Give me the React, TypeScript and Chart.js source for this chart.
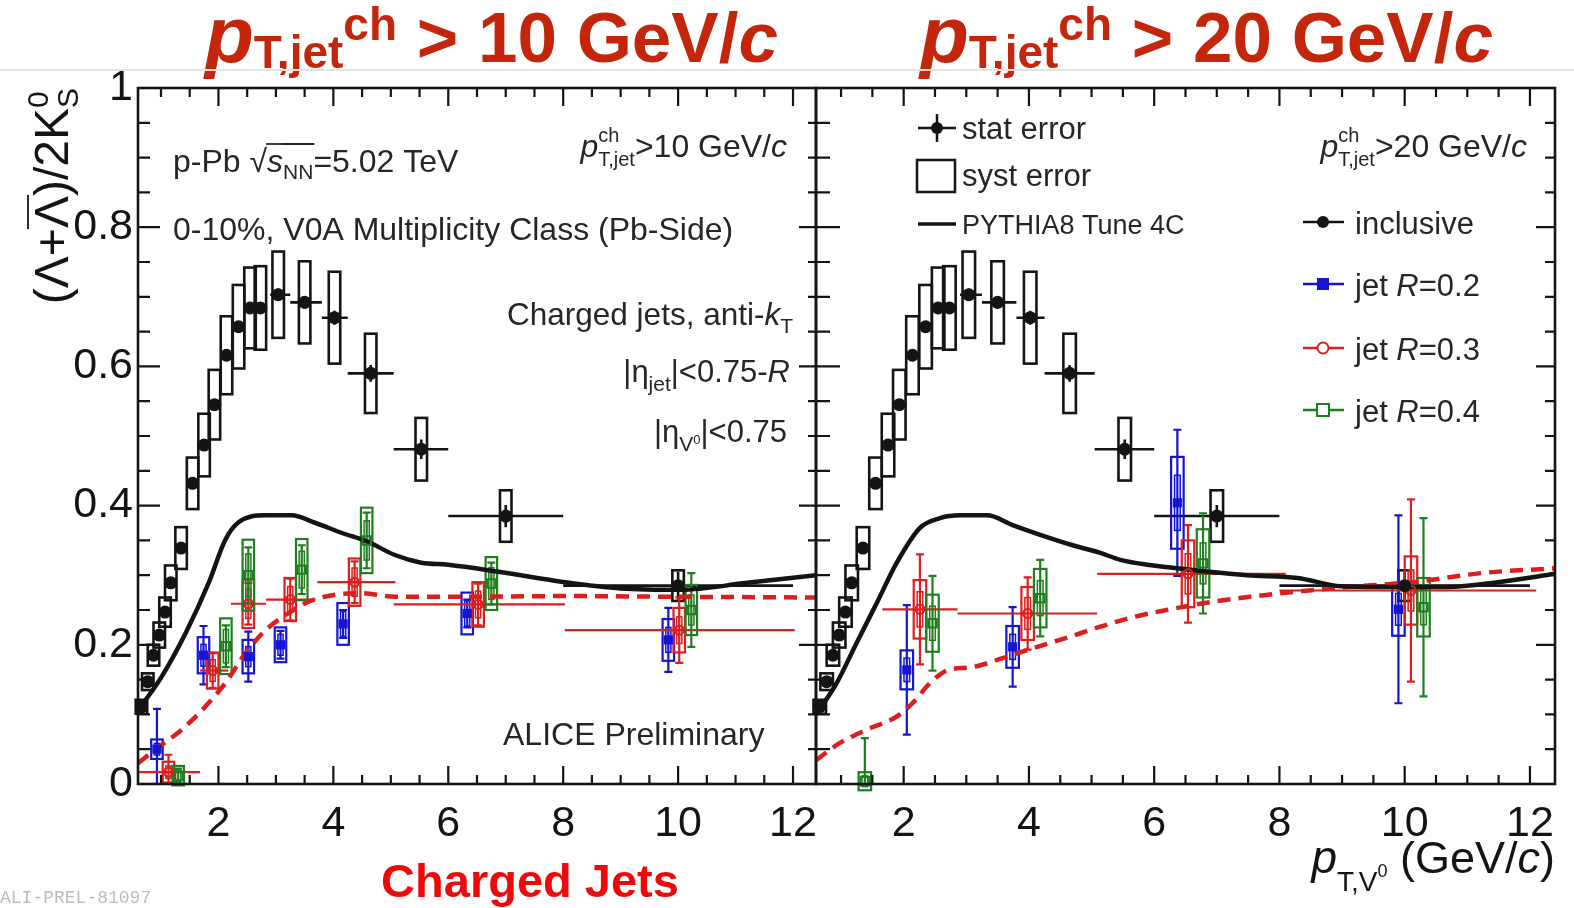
import React, { useEffect, useRef } from "react";
import { Chart, registerables } from "chart.js";

Chart.register(...registerables);

const W = 1574;
const H = 908;
const FONT = '"Liberation Sans", Arial, Helvetica, sans-serif';
const INK = "#141414";
const TEXT = "#262626";
const BLUE = "#1414d2";
const RED = "#dc1e1e";
const GREEN = "#1f7f1f";
const TITLE_RED = "#c4260c";

// axis ranges and ticks
const X_MIN = 0.6;
const X_MAX = 12.4;
const xTicks = [2, 4, 6, 8, 10, 12];
const yTicks = [0, 0.2, 0.4, 0.6, 0.8, 1];
const yTickLabels = ["0", "0.2", "0.4", "0.6", "0.8", "1"];

// inclusive Lambda/K0s ratio (both panels)
const incX = [0.66, 0.77, 0.87, 0.97, 1.07, 1.17, 1.35, 1.55, 1.75, 1.93, 2.14, 2.35, 2.55, 2.73, 3.04, 3.5, 4.02, 4.65, 5.53, 7.0, 10.0];
const incY = [0.111, 0.147, 0.185, 0.214, 0.247, 0.289, 0.339, 0.432, 0.487, 0.545, 0.616, 0.657, 0.684, 0.684, 0.703, 0.692, 0.67, 0.59, 0.481, 0.385, 0.285];
const incLo = [0.6, 0.72, 0.82, 0.92, 1.02, 1.12, 1.25, 1.45, 1.65, 1.85, 2.05, 2.25, 2.45, 2.65, 2.9, 3.25, 3.8, 4.25, 5.05, 6.0, 8.0];
const incHi = [0.72, 0.82, 0.92, 1.02, 1.12, 1.22, 1.45, 1.65, 1.85, 2.05, 2.25, 2.45, 2.65, 2.85, 3.25, 3.8, 4.25, 5.05, 6.0, 8.0, 12.0];
const incStat = [0.004, 0.004, 0.004, 0.005, 0.005, 0.005, 0.006, 0.006, 0.007, 0.007, 0.008, 0.008, 0.008, 0.008, 0.009, 0.009, 0.01, 0.012, 0.014, 0.016, 0.02];
const incSyst = [0.01, 0.012, 0.015, 0.018, 0.021, 0.025, 0.03, 0.037, 0.045, 0.05, 0.056, 0.06, 0.058, 0.06, 0.062, 0.059, 0.066, 0.057, 0.045, 0.037, 0.022];

// jets, pT,jet > 10 GeV/c
const l2X = [0.93, 1.74, 2.52, 3.08, 4.17, 6.33, 9.83];
const l2Y = [0.05, 0.185, 0.183, 0.2, 0.23, 0.245, 0.207];
const l2Stat = [0.058, 0.042, 0.036, 0.02, 0.02, 0.02, 0.046];
const l2Syst = [0.014, 0.026, 0.024, 0.025, 0.03, 0.03, 0.03];

const l3X = [1.13, 1.9, 2.52, 3.25, 4.37, 6.52, 10.02];
const l3Y = [0.017, 0.163, 0.259, 0.265, 0.29, 0.258, 0.221];
const l3Stat = [0.025, 0.025, 0.03, 0.03, 0.03, 0.03, 0.047];
const l3Syst = [0.015, 0.026, 0.035, 0.031, 0.034, 0.032, 0.032];
const l3Lo = [0.6, 1.68, 2.22, 2.83, 3.72, 5.05, 8.03];
const l3Hi = [1.68, 2.17, 2.83, 3.69, 5.08, 8.03, 12.03];

const l4X = [1.3, 2.13, 2.52, 3.45, 4.58, 6.75, 10.23];
const l4Y = [0.012, 0.198, 0.3, 0.308, 0.35, 0.288, 0.25];
const l4Stat = [0.01, 0.03, 0.04, 0.035, 0.04, 0.03, 0.053];
const l4Syst = [0.014, 0.04, 0.051, 0.044, 0.047, 0.038, 0.036];

// jets, pT,jet > 20 GeV/c
const r2X = [2.05, 3.74, 6.37, 9.9];
const r2Y = [0.164, 0.197, 0.404, 0.251];
const r2Stat = [0.093, 0.057, 0.105, 0.135];
const r2Syst = [0.028, 0.03, 0.066, 0.038];

const r3X = [2.26, 3.98, 6.54, 10.1];
const r3Y = [0.251, 0.245, 0.302, 0.278];
const r3Stat = [0.079, 0.052, 0.07, 0.131];
const r3Syst = [0.042, 0.038, 0.048, 0.049];
const r3Lo = [1.66, 2.86, 5.09, 8.0];
const r3Hi = [2.86, 5.09, 8.1, 12.1];

const r4X = [1.38, 2.46, 4.18, 6.78, 10.3];
const r4Y = [0.004, 0.231, 0.267, 0.317, 0.254];
const r4Stat = [0.062, 0.068, 0.055, 0.072, 0.128];
const r4Syst = [0.013, 0.041, 0.042, 0.049, 0.042];

// PYTHIA8 Tune 4C, inclusive
const lPyX = [0.62, 1.01, 1.43, 1.83, 2.12, 2.35, 2.82, 3.27, 3.69, 4.14, 4.6, 5.07, 5.53, 6.0, 6.87, 8.03, 9.0, 10.05, 11.2, 12.4];
const lPyY = [0.108, 0.154, 0.217, 0.289, 0.351, 0.376, 0.386, 0.386, 0.375, 0.361, 0.348, 0.329, 0.318, 0.315, 0.305, 0.29, 0.281, 0.279, 0.289, 0.3];
const rPyX = [0.6, 0.93, 1.25, 1.57, 1.89, 2.26, 2.58, 2.9, 3.33, 3.74, 4.18, 4.7, 5.14, 5.46, 5.89, 6.37, 7.48, 8.29, 8.98, 9.62, 10.69, 11.49, 12.4];
const rPyY = [0.1, 0.145, 0.203, 0.26, 0.318, 0.368, 0.382, 0.386, 0.386, 0.372, 0.358, 0.343, 0.332, 0.322, 0.315, 0.31, 0.3, 0.296, 0.284, 0.283, 0.283, 0.29, 0.302];

// PYTHIA8 Tune 4C, jets R=0.3
const lPyJetX = [0.6, 0.96, 1.36, 1.77, 2.12, 2.47, 2.82, 3.17, 3.57, 4.03, 4.49, 5.08, 6.0, 8.0, 10.0, 12.4];
const lPyJetY = [0.03, 0.053, 0.078, 0.111, 0.145, 0.188, 0.221, 0.243, 0.262, 0.272, 0.274, 0.269, 0.269, 0.27, 0.269, 0.268];
const rPyJetX = [0.6, 0.98, 1.41, 1.89, 2.14, 2.42, 2.69, 3.1, 3.65, 4.06, 4.6, 5.14, 5.67, 6.2, 6.94, 8.02, 9.09, 10.14, 11.22, 12.4];
const rPyJetY = [0.034, 0.059, 0.078, 0.097, 0.116, 0.145, 0.163, 0.168, 0.183, 0.195, 0.21, 0.226, 0.24, 0.25, 0.262, 0.274, 0.283, 0.29, 0.303, 0.31];

type Jet = { x: number[]; y: number[]; stat: number[]; syst: number[]; lo?: number[]; hi?: number[]; color: string };

type R = { t: string; s: number; i?: boolean; b?: boolean; dy?: number; ov?: number; kern?: number };
type Item = R | R[];

function fnt(r: R) {
  return `${r.i ? "italic " : ""}${r.b ? "bold " : ""}${r.s}px ${FONT}`;
}

function itemW(ctx: CanvasRenderingContext2D, it: Item) {
  const rs = Array.isArray(it) ? it : [it];
  let w = 0;
  for (const r of rs) {
    ctx.font = fnt(r);
    w = Math.max(w, ctx.measureText(r.t).width + (r.kern || 0));
  }
  return w;
}

function drawRuns(ctx: CanvasRenderingContext2D, x: number, y: number, items: Item[], align: string, color: string) {
  const total = items.reduce((a, it) => a + itemW(ctx, it), 0);
  let cx = align === "right" ? x - total : align === "center" ? x - total / 2 : x;
  ctx.save();
  ctx.fillStyle = color;
  ctx.strokeStyle = color;
  ctx.textAlign = "left";
  ctx.textBaseline = "alphabetic";
  for (const it of items) {
    const rs = Array.isArray(it) ? it : [it];
    for (const r of rs) {
      ctx.font = fnt(r);
      ctx.fillText(r.t, cx, y + (r.dy || 0));
      if (r.ov !== undefined) {
        const w = ctx.measureText(r.t).width;
        ctx.lineWidth = 1.8;
        ctx.beginPath();
        ctx.moveTo(cx - 1, y + r.ov);
        ctx.lineTo(cx + w + 1, y + r.ov);
        ctx.stroke();
      }
    }
    cx += itemW(ctx, it);
  }
  ctx.restore();
  return total;
}

function pts(xs: number[], ys: number[]) {
  return xs.map((x, i) => ({ x, y: ys[i] }));
}

function drawInclusive(chart: any) {
  const { ctx, scales } = chart;
  const xs = scales.x;
  const ys = scales.y;
  ctx.save();
  ctx.strokeStyle = INK;
  ctx.lineWidth = 2.6;
  for (let i = 0; i < incX.length; i++) {
    const l = xs.getPixelForValue(incX[i] - 0.1);
    const r = xs.getPixelForValue(incX[i] + 0.1);
    const t = ys.getPixelForValue(incY[i] + incSyst[i]);
    const b = ys.getPixelForValue(incY[i] - incSyst[i]);
    ctx.strokeRect(l, t, r - l, b - t);
    const py = ys.getPixelForValue(incY[i]);
    const px = xs.getPixelForValue(incX[i]);
    ctx.beginPath();
    ctx.moveTo(xs.getPixelForValue(incLo[i]), py);
    ctx.lineTo(xs.getPixelForValue(incHi[i]), py);
    ctx.moveTo(px, ys.getPixelForValue(incY[i] + incStat[i]));
    ctx.lineTo(px, ys.getPixelForValue(incY[i] - incStat[i]));
    ctx.stroke();
  }
  ctx.restore();
}

function drawJets(chart: any, jet: Jet) {
  const { ctx, scales } = chart;
  const xs = scales.x;
  const ys = scales.y;
  ctx.save();
  ctx.strokeStyle = jet.color;
  for (let i = 0; i < jet.x.length; i++) {
    const x = jet.x[i];
    const y = jet.y[i];
    const px = xs.getPixelForValue(x);
    const py = ys.getPixelForValue(y);
    if (jet.lo && jet.hi) {
      ctx.lineWidth = 2.2;
      ctx.beginPath();
      ctx.moveTo(xs.getPixelForValue(jet.lo[i]), py);
      ctx.lineTo(xs.getPixelForValue(jet.hi[i]), py);
      ctx.stroke();
    }
    // systematic box with inner component
    ctx.lineWidth = 2.2;
    const l = xs.getPixelForValue(x - 0.1);
    const r = xs.getPixelForValue(x + 0.1);
    const t = ys.getPixelForValue(y + jet.syst[i]);
    const b = ys.getPixelForValue(y - jet.syst[i]);
    ctx.strokeRect(l, t, r - l, b - t);
    ctx.lineWidth = 1.5;
    const il = xs.getPixelForValue(x - 0.045);
    const ir = xs.getPixelForValue(x + 0.045);
    const it = ys.getPixelForValue(y + jet.syst[i] * 0.6);
    const ib = ys.getPixelForValue(y - jet.syst[i] * 0.6);
    ctx.strokeRect(il, it, ir - il, ib - it);
    // statistical error with caps
    ctx.lineWidth = 2.2;
    const st = ys.getPixelForValue(y + jet.stat[i]);
    const sb = ys.getPixelForValue(Math.max(0, y - jet.stat[i]));
    ctx.beginPath();
    ctx.moveTo(px, st);
    ctx.lineTo(px, sb);
    ctx.moveTo(px - 4, st);
    ctx.lineTo(px + 4, st);
    if (y - jet.stat[i] > 0) {
      ctx.moveTo(px - 4, sb);
      ctx.lineTo(px + 4, sb);
    }
    ctx.stroke();
  }
  ctx.restore();
}

type FrameCfg = { lMajor: number; lMinor: number; rMajor: number; rMinor: number };

function drawFrame(chart: any, cfg: FrameCfg) {
  const { ctx, chartArea: a, scales } = chart;
  const xs = scales.x;
  const ys = scales.y;
  ctx.save();
  ctx.strokeStyle = INK;
  ctx.lineWidth = 2.6;
  ctx.strokeRect(a.left, a.top, a.right - a.left, a.bottom - a.top);
  ctx.lineWidth = 2.2;
  ctx.beginPath();
  for (let k = 2; k <= 24; k++) {
    const v = k * 0.5;
    const major = k % 4 === 0;
    const len = major ? 18 : 9;
    const px = xs.getPixelForValue(v);
    ctx.moveTo(px, a.bottom);
    ctx.lineTo(px, a.bottom - len);
    ctx.moveTo(px, a.top);
    ctx.lineTo(px, a.top + len);
  }
  for (let k = 1; k < 20; k++) {
    const v = k * 0.05;
    const major = k % 4 === 0;
    const py = ys.getPixelForValue(v);
    ctx.moveTo(a.left, py);
    ctx.lineTo(a.left + (major ? cfg.lMajor : cfg.lMinor), py);
    ctx.moveTo(a.right, py);
    ctx.lineTo(a.right - (major ? cfg.rMajor : cfg.rMinor), py);
  }
  ctx.stroke();
  ctx.restore();
}

function drawLeftText(ctx: CanvasRenderingContext2D) {
  // page headings
  const head = (x: number, v: string) =>
    drawRuns(ctx, x, 62, [
      { t: "p", s: 80, b: true, i: true },
      { t: "T,jet", s: 46, b: true, dy: 6 },
      { t: "ch", s: 46, b: true, dy: -22 },
      { t: ` > ${v} GeV/`, s: 71, b: true },
      { t: "c", s: 71, b: true, i: true },
    ], "left", TITLE_RED);
  head(205, "10");
  head(920, "20");

  ctx.save();
  ctx.strokeStyle = "#e4e4e4";
  ctx.lineWidth = 2;
  ctx.beginPath();
  ctx.moveTo(0, 70);
  ctx.lineTo(W, 70);
  ctx.stroke();
  ctx.restore();

  drawRuns(ctx, 530, 897, [{ t: "Charged Jets", s: 47, b: true }], "center", "#ee0a0a");
  ctx.save();
  ctx.font = `18px "Liberation Mono", "DejaVu Sans Mono", monospace`;
  ctx.fillStyle = "#bdbdbd";
  ctx.fillText("ALI-PREL-81097", 0, 903);
  ctx.restore();

  // y-axis title
  ctx.save();
  ctx.translate(68, 0);
  ctx.rotate(-Math.PI / 2);
  drawRuns(ctx, -88, 0, [
    { t: "(Λ+", s: 48 },
    { t: "Λ", s: 48, ov: -40 },
    { t: ")/2K", s: 48 },
    [{ t: "0", s: 30, dy: -20 }, { t: "S", s: 30, dy: 10 }],
  ], "right", INK);
  ctx.restore();

  // x-axis title
  drawRuns(ctx, 1555, 873, [
    { t: "p", s: 46, i: true },
    { t: "T,V", s: 28, dy: 18 },
    { t: "0", s: 18, dy: 4 },
    { t: " (GeV/", s: 45 },
    { t: "c", s: 45, i: true },
    { t: ")", s: 45 },
  ], "right", INK);

  // left panel labels
  drawRuns(ctx, 173, 172, [
    { t: "p-Pb ", s: 32 },
    { t: "√", s: 32 },
    { t: "s", s: 32, i: true, ov: -28 },
    { t: "NN", s: 21, dy: 7, ov: -28 },
    { t: "=5.02 TeV", s: 32 },
  ], "left", TEXT);
  drawRuns(ctx, 173, 240, [{ t: "0-10%, V0A Multiplicity Class (Pb-Side)", s: 32 }], "left", TEXT);
  drawRuns(ctx, 787, 157, [
    { t: "p", s: 32, i: true },
    [{ t: "ch", s: 20, dy: -15 }, { t: "T,jet", s: 20, dy: 9 }],
    { t: ">10 GeV/", s: 32 },
    { t: "c", s: 32, i: true },
  ], "right", TEXT);
  drawRuns(ctx, 793, 325, [
    { t: "Charged jets, anti-", s: 31.5 },
    { t: "k", s: 31.5, i: true },
    { t: "T", s: 21, dy: 8 },
  ], "right", TEXT);
  drawRuns(ctx, 790, 382, [
    { t: "|η", s: 31 },
    { t: "jet", s: 21, dy: 9 },
    { t: "|<0.75-", s: 31 },
    { t: "R", s: 31, i: true },
  ], "right", TEXT);
  drawRuns(ctx, 787, 442, [
    { t: "|η", s: 31 },
    { t: "V", s: 21, dy: 9 },
    { t: "0", s: 13, dy: 2 },
    { t: "|<0.75", s: 31 },
  ], "right", TEXT);
  drawRuns(ctx, 503, 745, [{ t: "ALICE Preliminary", s: 32 }], "left", TEXT);
}

function drawRightText(ctx: CanvasRenderingContext2D) {
  ctx.save();
  ctx.strokeStyle = INK;
  ctx.fillStyle = INK;
  ctx.lineWidth = 2.5;
  // stat error
  ctx.beginPath();
  ctx.moveTo(918, 128);
  ctx.lineTo(956, 128);
  ctx.moveTo(937, 114);
  ctx.lineTo(937, 142);
  ctx.stroke();
  ctx.beginPath();
  ctx.arc(937, 128, 6, 0, Math.PI * 2);
  ctx.fill();
  // syst error
  ctx.strokeRect(917, 160, 38, 32);
  // PYTHIA
  ctx.lineWidth = 3.5;
  ctx.beginPath();
  ctx.moveTo(918, 224);
  ctx.lineTo(956, 224);
  ctx.stroke();
  ctx.restore();
  drawRuns(ctx, 962, 139, [{ t: "stat error", s: 31 }], "left", TEXT);
  drawRuns(ctx, 962, 186, [{ t: "syst error", s: 31 }], "left", TEXT);
  drawRuns(ctx, 962, 234, [{ t: "PYTHIA8 Tune 4C", s: 27 }], "left", TEXT);

  drawRuns(ctx, 1527, 157, [
    { t: "p", s: 32, i: true },
    [{ t: "ch", s: 20, dy: -15 }, { t: "T,jet", s: 20, dy: 9 }],
    { t: ">20 GeV/", s: 32 },
    { t: "c", s: 32, i: true },
  ], "right", TEXT);

  const entries = [
    { y: 222, c: INK, label: "inclusive", mk: "dot" },
    { y: 284, c: BLUE, label: "0.2", mk: "fsq" },
    { y: 348, c: RED, label: "0.3", mk: "ocirc" },
    { y: 410, c: GREEN, label: "0.4", mk: "osq" },
  ];
  for (const e of entries) {
    ctx.save();
    ctx.strokeStyle = e.c;
    ctx.fillStyle = e.c;
    ctx.lineWidth = 2.5;
    ctx.beginPath();
    ctx.moveTo(1303, e.y);
    ctx.lineTo(1344, e.y);
    ctx.stroke();
    const cx = 1323;
    if (e.mk === "dot") {
      ctx.beginPath();
      ctx.arc(cx, e.y, 6, 0, Math.PI * 2);
      ctx.fill();
    } else if (e.mk === "fsq") {
      ctx.fillRect(cx - 6, e.y - 6, 12, 12);
    } else if (e.mk === "ocirc") {
      ctx.fillStyle = "#fff";
      ctx.lineWidth = 2;
      ctx.beginPath();
      ctx.arc(cx, e.y, 5.5, 0, Math.PI * 2);
      ctx.fill();
      ctx.stroke();
    } else {
      ctx.fillStyle = "#fff";
      ctx.lineWidth = 2;
      ctx.fillRect(cx - 6, e.y - 6, 12, 12);
      ctx.strokeRect(cx - 6, e.y - 6, 12, 12);
    }
    ctx.restore();
    if (e.mk === "dot") {
      drawRuns(ctx, 1355, e.y + 12, [{ t: e.label, s: 31 }], "left", TEXT);
    } else {
      drawRuns(ctx, 1355, e.y + 12, [
        { t: "jet ", s: 31 },
        { t: "R", s: 31, i: true },
        { t: "=" + e.label, s: 31 },
      ], "left", TEXT);
    }
  }
}

type PanelSpec = {
  id: string;
  padLeft: number;
  padRight: number;
  showY: boolean;
  jets: Jet[];
  pyX: number[];
  pyY: number[];
  pyJetX: number[];
  pyJetY: number[];
  frame: FrameCfg;
  text: (ctx: CanvasRenderingContext2D) => void;
};

function buildChart(canvas: HTMLCanvasElement, p: PanelSpec) {
  const [b, r, g] = p.jets;
  const plugin = {
    id: "panel-" + p.id,
    beforeDatasetsDraw(chart: any) {
      drawInclusive(chart);
      for (const j of p.jets) drawJets(chart, j);
    },
    afterDraw(chart: any) {
      drawFrame(chart, p.frame);
      p.text(chart.ctx);
    },
  };
  const tickFont = { family: FONT, size: 43 };
  return new Chart(canvas, {
    type: "scatter",
    data: {
      datasets: [
        { data: pts(incX, incY), pointRadius: 6.5, pointBackgroundColor: INK, pointBorderColor: INK, pointBorderWidth: 0, clip: 12 } as any,
        { data: pts(b.x, b.y), pointStyle: "rect", pointRadius: 6.5, pointBackgroundColor: BLUE, pointBorderColor: BLUE, pointBorderWidth: 0, clip: 12 },
        { data: pts(r.x, r.y), pointStyle: "circle", pointRadius: 4.5, pointBackgroundColor: "rgba(255,255,255,0)", pointBorderColor: RED, pointBorderWidth: 2, clip: 12 },
        { data: pts(g.x, g.y), pointStyle: "rect", pointRadius: 6, pointBackgroundColor: "rgba(255,255,255,0)", pointBorderColor: GREEN, pointBorderWidth: 2, clip: 12 },
        { type: "line", data: pts(p.pyX, p.pyY), borderColor: INK, borderWidth: 4.5, pointRadius: 0, cubicInterpolationMode: "monotone", fill: false },
        { type: "line", data: pts(p.pyJetX, p.pyJetY), borderColor: RED, borderWidth: 4.5, borderDash: [13, 8], pointRadius: 0, cubicInterpolationMode: "monotone", fill: false },
      ],
    } as any,
    options: {
      responsive: false,
      animation: false,
      events: [],
      layout: { padding: { left: p.padLeft, right: p.padRight, top: 88, bottom: 0 } },
      plugins: { legend: { display: false }, tooltip: { enabled: false } },
      scales: {
        x: {
          type: "linear",
          min: X_MIN,
          max: X_MAX,
          grid: { display: false, drawTicks: false },
          border: { display: false },
          afterBuildTicks: (s: any) => {
            s.ticks = xTicks.map((v) => ({ value: v }));
          },
          afterFit: (s: any) => {
            s.height = H - 784;
          },
          ticks: { font: tickFont, color: INK, padding: 14, maxRotation: 0, autoSkip: false, callback: (v: any) => String(v) },
        },
        y: {
          type: "linear",
          display: p.showY,
          min: 0,
          max: 1,
          grid: { display: false, drawTicks: false },
          border: { display: false },
          afterBuildTicks: (s: any) => {
            s.ticks = yTicks.map((v) => ({ value: v }));
          },
          afterFit: (s: any) => {
            s.width = p.showY ? 138 : 0;
          },
          ticks: {
            font: tickFont,
            color: INK,
            padding: 5,
            autoSkip: false,
            callback: (v: any) => yTickLabels[yTicks.findIndex((t) => Math.abs(t - v) < 1e-6)] ?? "",
          },
        },
      },
    } as any,
    plugins: [plugin],
  });
}

const leftPanel: PanelSpec = {
  id: "pt10",
  padLeft: 0,
  padRight: W - 816,
  showY: true,
  jets: [
    { x: l2X, y: l2Y, stat: l2Stat, syst: l2Syst, color: BLUE },
    { x: l3X, y: l3Y, stat: l3Stat, syst: l3Syst, lo: l3Lo, hi: l3Hi, color: RED },
    { x: l4X, y: l4Y, stat: l4Stat, syst: l4Syst, color: GREEN },
  ],
  pyX: lPyX,
  pyY: lPyY,
  pyJetX: lPyJetX,
  pyJetY: lPyJetY,
  frame: { lMajor: 22, lMinor: 12, rMajor: 17, rMinor: 8 },
  text: drawLeftText,
};

const rightPanel: PanelSpec = {
  id: "pt20",
  padLeft: 816,
  padRight: W - 1555,
  showY: false,
  jets: [
    { x: r2X, y: r2Y, stat: r2Stat, syst: r2Syst, color: BLUE },
    { x: r3X, y: r3Y, stat: r3Stat, syst: r3Syst, lo: r3Lo, hi: r3Hi, color: RED },
    { x: r4X, y: r4Y, stat: r4Stat, syst: r4Syst, color: GREEN },
  ],
  pyX: rPyX,
  pyY: rPyY,
  pyJetX: rPyJetX,
  pyJetY: rPyJetY,
  frame: { lMajor: 24, lMinor: 14, rMajor: 19, rMinor: 10 },
  text: drawRightText,
};

export default function App() {
  const leftRef = useRef<HTMLCanvasElement>(null);
  const rightRef = useRef<HTMLCanvasElement>(null);
  useEffect(() => {
    const a = buildChart(leftRef.current!, leftPanel);
    const b = buildChart(rightRef.current!, rightPanel);
    return () => {
      a.destroy();
      b.destroy();
    };
  }, []);
  const cs: React.CSSProperties = { position: "absolute", left: 0, top: 0, width: W, height: H };
  return (
    <div style={{ position: "absolute", left: 0, top: 0, width: W, height: H, background: "#fff", overflow: "hidden" }}>
      <canvas ref={leftRef} width={W} height={H} style={cs} />
      <canvas ref={rightRef} width={W} height={H} style={cs} />
    </div>
  );
}
